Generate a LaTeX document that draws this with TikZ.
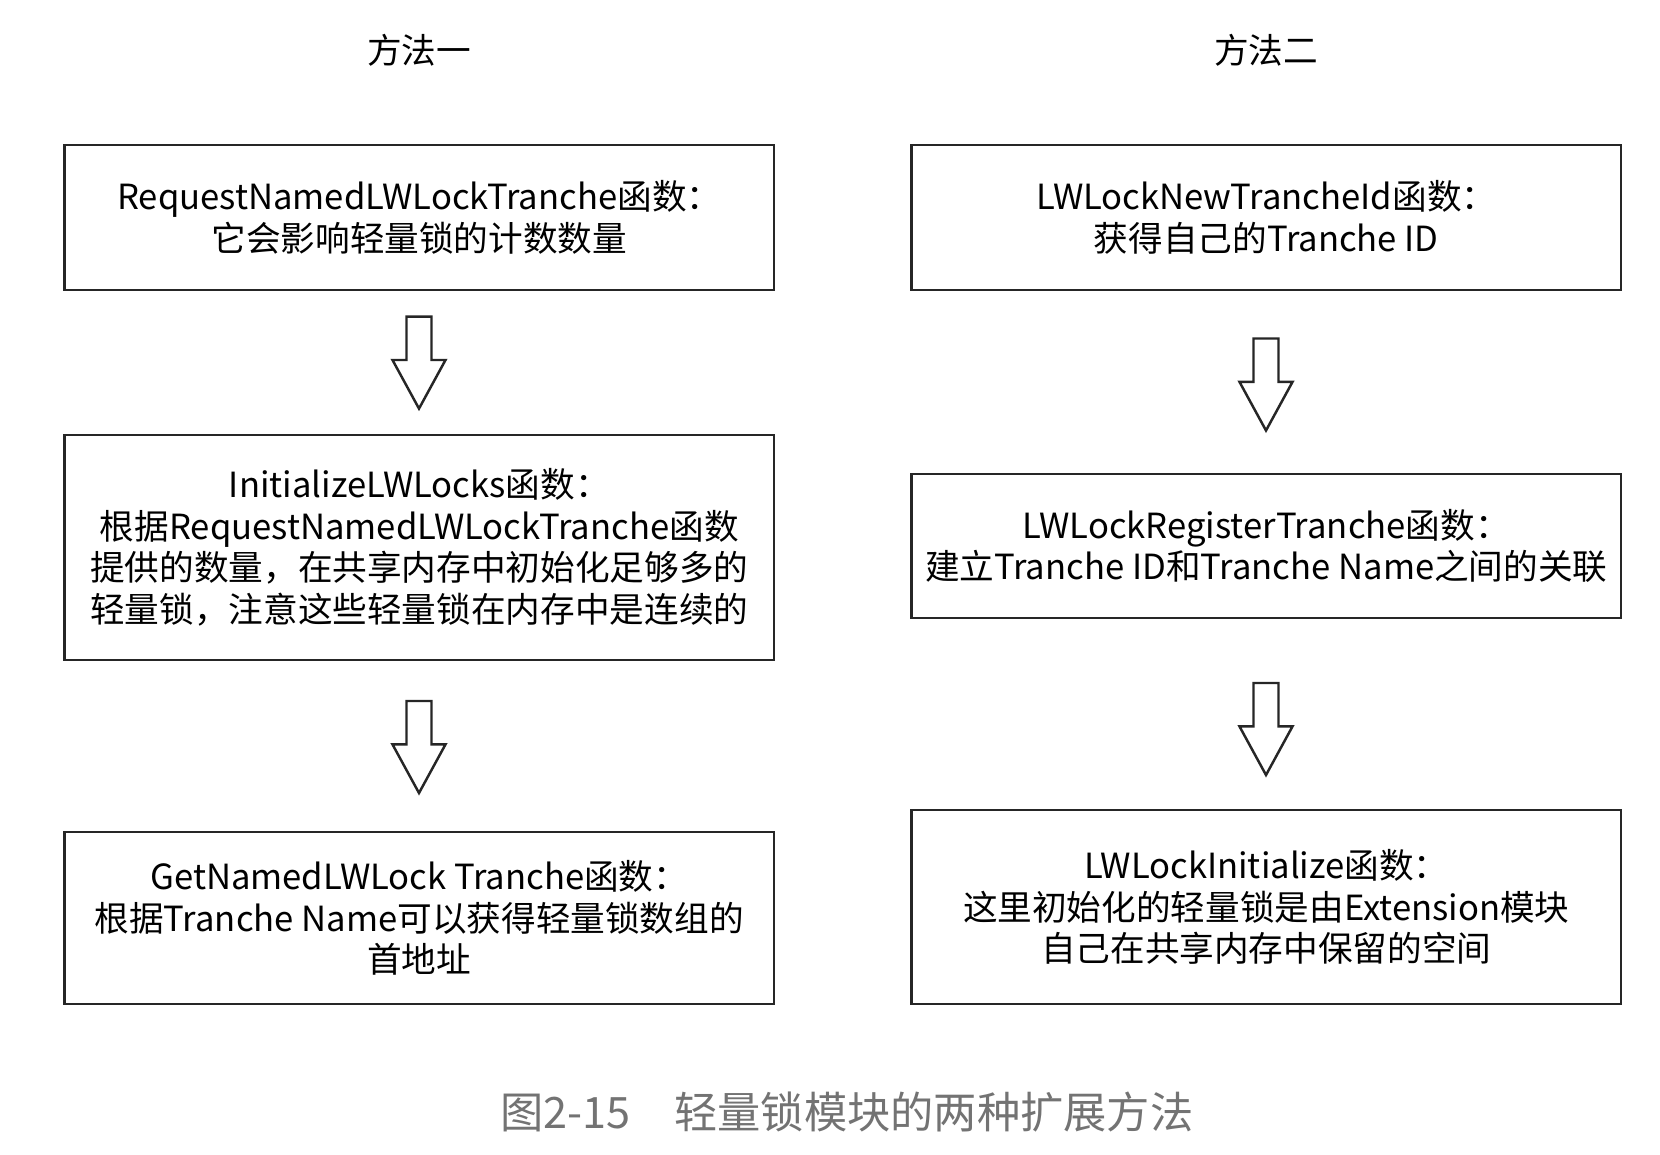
\documentclass[tikz,border=0pt]{standalone}
\usepackage{fontspec}
\setmainfont{Noto Sans CJK SC}
\usepackage{tikz}
\tikzset{
  stepbox/.style={draw=black!85, line width=0.7pt, minimum width=7.094cm, align=center,
                  inner sep=0pt, font=\fontsize{9.85}{11.8}\selectfont},
  hollowarrow/.style={draw=black!85, line width=0.7pt, fill=white, line join=miter},
  headline/.style={font=\fontsize{9.85}{11.8}\selectfont},
}

\begin{document}
\begin{tikzpicture}[x=0.01cm, y=-0.01cm]
      \useasboundingbox (0, 0) rectangle (1660, 1154);

      \node[headline](Method1) at (419, 50) {方法一};
      \node[headline](Method2) at (1266, 50) {方法二};

      % left column
      \node[stepbox, minimum height=1.45cm](Req) at (419.3, 217.5)
        {RequestNamedLWLockTranche函数：\\它会影响轻量锁的计数数量};
      \node[stepbox, minimum height=2.25cm](Init) at (419.3, 547.5)
        {InitializeLWLocks函数：\\根据RequestNamedLWLockTranche函数\\提供的数量，在共享内存中初始化足够多的\\轻量锁，注意这些轻量锁在内存中是连续的};
      \node[stepbox, minimum height=1.72cm](GetNamed) at (419.3, 918)
        {GetNamedLWLock Tranche函数：\\根据Tranche Name可以获得轻量锁数组的\\首地址};

      % right column
      \node[stepbox, minimum height=1.45cm](NewId) at (1266.3, 217.5)
        {LWLockNewTrancheId函数：\\获得自己的Tranche ID};
      \node[stepbox, minimum height=1.44cm](Register) at (1266.3, 546)
        {LWLockRegisterTranche函数：\\建立Tranche ID和Tranche Name之间的关联};
      \node[stepbox, minimum height=1.94cm](LWInit) at (1266.3, 907)
        {LWLockInitialize函数：\\这里初始化的轻量锁是由Extension模块\\自己在共享内存中保留的空间};

      % hollow block arrows between the boxes
      \foreach \ax/\ay in {419/362.6, 419/747, 1266/384.5, 1266/729}
        \draw[hollowarrow] (\ax-12.5, \ay-46) -- (\ax+12.5, \ay-46) -- (\ax+12.5, \ay-2.6)
              -- (\ax+26.5, \ay-2.6) -- (\ax, \ay+46) -- (\ax-26.5, \ay-2.6)
              -- (\ax-12.5, \ay-2.6) -- cycle;

      \node[font=\fontsize{12.3}{14}\selectfont, text=black!55](Caption) at (847, 1112)
        {图2-15\quad 轻量锁模块的两种扩展方法};
\end{tikzpicture}
\end{document}
